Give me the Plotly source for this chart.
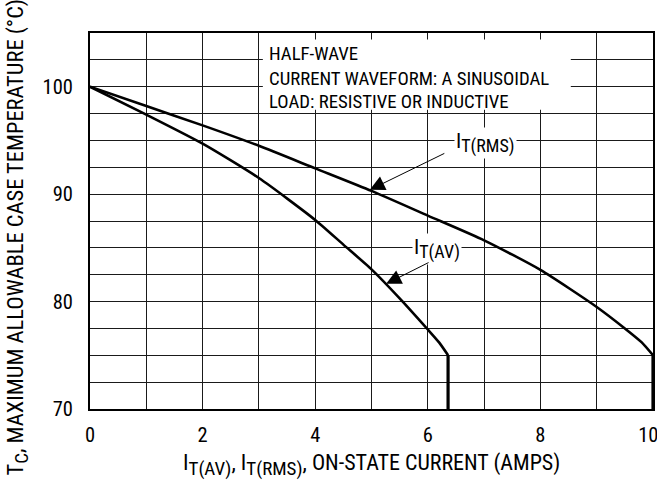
import plotly.graph_objects as go

# Data
rms_x = [0, 1, 2, 3, 4, 5, 6, 7, 8, 9, 9.5, 9.8, 10]
rms_y = [100, 98.2, 96.4, 94.5, 92.4, 90.3, 88.0, 85.7, 82.95, 79.5, 77.5, 76.2, 75.0]
rms_drop_y = [75.0, 70]

av_x = [0, 1, 2, 3, 4, 4.5, 5, 5.5, 6, 6.2, 6.36]
av_y = [100, 97.4, 94.7, 91.5, 87.6, 85.3, 83.0, 80.3, 77.4, 76.2, 75.0]
av_drop_y = [75.0, 70]

x_ticks = [0, 2, 4, 6, 8, 10]
x_tick_text = ["0", "2", "4", "6", "8", "10\u00a0\u00a0"]
y_ticks = [70, 80, 90, 100]

note_lines = ["HALF-WAVE", "CURRENT WAVEFORM: A SINUSOIDAL", "LOAD: RESISTIVE OR INDUCTIVE"]

FONT = "Roboto Condensed, Liberation Sans Narrow, Arial Narrow, sans-serif"


def sub(main, s, px):
    return f"{main}<sub><span style='font-size:{px}px'>{s}</span></sub>"


fig = go.Figure()
LW = 2.6
fig.add_trace(go.Scatter(x=rms_x, y=rms_y, mode="lines", line_shape="spline",
                         line=dict(color="black", width=LW, smoothing=0.6), hoverinfo="skip"))
fig.add_trace(go.Scatter(x=[rms_x[-1], rms_x[-1]], y=rms_drop_y, mode="lines",
                         line=dict(color="black", width=LW + 0.6), hoverinfo="skip"))
fig.add_trace(go.Scatter(x=av_x, y=av_y, mode="lines", line_shape="spline",
                         line=dict(color="black", width=LW, smoothing=0.6), hoverinfo="skip"))
fig.add_trace(go.Scatter(x=[av_x[-1], av_x[-1]], y=av_drop_y, mode="lines",
                         line=dict(color="black", width=LW + 0.6), hoverinfo="skip"))

GRIDC = "#1a1a1a"

fig.update_layout(
    width=657, height=482,
    margin=dict(l=90, r=4, t=33, b=73, autoexpand=False),
    paper_bgcolor="white", plot_bgcolor="white",
    showlegend=False,
    font=dict(family=FONT, size=20, color="black"),
    xaxis=dict(range=[0, 10], tickvals=x_ticks, ticktext=x_tick_text, ticks="",
               ticklabelstandoff=6, ticklabeloverflow="allow",
               showline=True, linecolor="black", linewidth=2, mirror=True,
               zeroline=False, automargin=False,
               showgrid=True, gridcolor=GRIDC, gridwidth=1.4,
               minor=dict(dtick=1, tick0=0, showgrid=True, gridcolor=GRIDC, gridwidth=1.4),
               tickfont=dict(size=20.5)),
    yaxis=dict(range=[70, 105], tickvals=y_ticks, ticks="", ticklabelstandoff=11,
               ticklabeloverflow="allow",
               showline=True, linecolor="black", linewidth=2, mirror=True,
               zeroline=False, automargin=False,
               showgrid=True, gridcolor=GRIDC, gridwidth=1.4,
               minor=dict(dtick=2.5, tick0=70, showgrid=True, gridcolor=GRIDC, gridwidth=1.4),
               tickfont=dict(size=20.5)),
)

# white box behind the note text (covers gridlines, leaves top ticks)
fig.add_shape(type="rect", xref="x", yref="y", x0=3.07, x1=8.54, y0=97.85, y1=104.4,
              fillcolor="white", line=dict(width=0), layer="between")

note_y = [103.0, 100.76, 98.62]
for txt, yy in zip(note_lines, note_y):
    fig.add_annotation(x=3.15, y=yy, xref="x", yref="y", text=txt, showarrow=False,
                       xanchor="left", yanchor="middle", font=dict(size=18.8))

# curve labels
fig.add_annotation(x=7.02, y=94.75, xref="x", yref="y", text=sub("I", "T(RMS)", 18),
                   showarrow=False, bgcolor="white", borderpad=1, font=dict(size=21))
fig.add_annotation(x=6.17, y=84.85, xref="x", yref="y", text=sub("I", "T(AV)", 18),
                   showarrow=False, bgcolor="white", borderpad=1, font=dict(size=21))

# arrows
fig.add_annotation(x=4.97, y=90.4, ax=6.32, ay=93.86, xref="x", yref="y",
                   axref="x", ayref="y", text="", showarrow=True,
                   arrowhead=2, arrowsize=3, arrowwidth=1, arrowcolor="black")
fig.add_annotation(x=5.26, y=81.65, ax=6.04, ay=83.7, xref="x", yref="y",
                   axref="x", ayref="y", text="", showarrow=True,
                   arrowhead=2, arrowsize=3, arrowwidth=1, arrowcolor="black")

# axis titles
fig.add_annotation(xref="paper", yref="paper", x=0.5, y=-0.15, yanchor="middle",
                   text=sub("I", "T(AV)", 19) + ", " + sub("I", "T(RMS)", 19)
                   + ", ON-STATE CURRENT (AMPS)",
                   showarrow=False, font=dict(size=22))
fig.add_annotation(xref="paper", x=-0.128, xanchor="center", yref="paper", y=0.456,
                   yanchor="middle", textangle=-90,
                   text=sub("T", "C", 19) + ", MAXIMUM ALLOWABLE CASE TEMPERATURE (°C)",
                   showarrow=False, font=dict(size=22.5))

fig.write_html("out.html", post_script="document.body.style.margin='0px';",
               config={"displayModeBar": False})
